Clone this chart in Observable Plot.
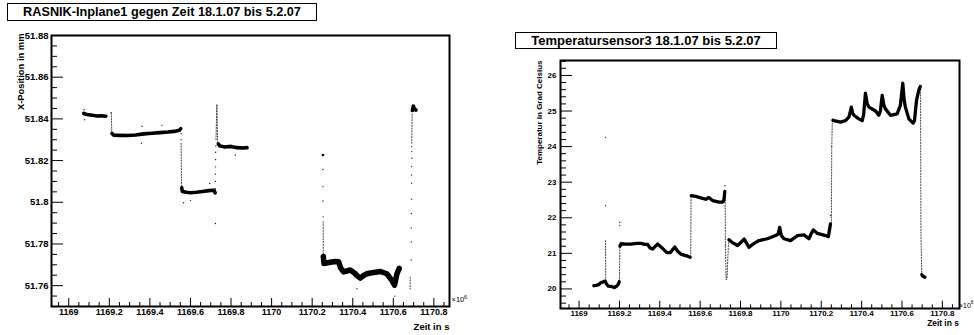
<!DOCTYPE html>
<html><head><meta charset="utf-8">
<script src="https://cdn.jsdelivr.net/npm/d3@7"></script>
<script src="https://cdn.jsdelivr.net/npm/@observablehq/plot@0.6"></script>
<style>
html,body{margin:0;padding:0;background:#fff;}
#page{position:relative;width:974px;height:335px;overflow:hidden;font-family:"Liberation Sans",Arial,Helvetica,sans-serif;background:#fff;}
.title{position:absolute;box-sizing:border-box;border:1px solid #000;background:#fff;font-weight:bold;text-align:center;white-space:nowrap;color:#000;}
.panel{position:absolute;top:0;}
</style></head><body><div id="page">
<div class="panel" id="left" style="left:0"></div>
<div class="panel" id="right" style="left:487px"></div>
<div class="title" style="left:7px;top:3px;width:310px;height:18px;font-size:12.7px;line-height:16px;">RASNIK-Inplane1 gegen Zeit 18.1.07 bis 5.2.07</div>
<div class="title" style="left:515px;top:32px;width:262px;height:17px;font-size:13px;line-height:15px;">Temperatursensor3 18.1.07 bis 5.2.07</div>
</div>
<script>
// ---------- axis ticks ----------
const xTicksMajor = [1169, 1169.2, 1169.4, 1169.6, 1169.8, 1170, 1170.2, 1170.4, 1170.6, 1170.8];
const xTickLabels = ["1169","1169.2","1169.4","1169.6","1169.8","1170","1170.2","1170.4","1170.6","1170.8"];
const rasnikYTicks = [51.76, 51.78, 51.8, 51.82, 51.84, 51.86, 51.88];
const rasnikYLabels = ["51.76","51.78","51.8","51.82","51.84","51.86","51.88"];
const tempYTicks = [20, 21, 22, 23, 24, 25, 26];
const tempYLabels = ["20","21","22","23","24","25","26"];

// ---------- RASNIK X-position (mm) : dense bands ----------
const rasnikSeg = ["A","A","A","A","A","A","A",
  "B","B","B","B","B","B","B","B","B","B","B","B",
  "C","C","C","C","C","C","C","C","C",
  "D","D","D","D","D","D","D",
  "E","E","E","E","E","E","E","E","E","E","E","E","E","E","E","E","E","E","E","E",
  "F","F","F","F"];
const rasnikT = [1169.074,1169.090,1169.107,1169.125,1169.141,1169.160,1169.183,
  1169.213,1169.222,1169.250,1169.290,1169.330,1169.370,1169.410,1169.450,1169.490,1169.520,1169.545,1169.552,
  1169.557,1169.560,1169.580,1169.600,1169.630,1169.660,1169.690,1169.715,1169.722,
  1169.737,1169.745,1169.770,1169.800,1169.830,1169.860,1169.879,
  1170.255,1170.258,1170.289,1170.315,1170.330,1170.340,1170.355,1170.388,1170.410,1170.421,1170.437,1170.455,1170.470,1170.495,1170.536,1170.568,1170.593,1170.606,1170.618,1170.629,
  1170.694,1170.699,1170.704,1170.712];
const rasnikX = [51.8426,51.8421,51.8419,51.8416,51.8414,51.8415,51.8413,
  51.8330,51.8322,51.8321,51.8320,51.8323,51.8328,51.8331,51.8334,51.8337,51.8340,51.8345,51.8353,
  51.8070,51.8052,51.8048,51.8046,51.8048,51.8052,51.8056,51.8058,51.8045,
  51.8280,51.8270,51.8265,51.8268,51.8262,51.8260,51.8262,
  51.7740,51.7706,51.7712,51.7716,51.7715,51.7685,51.7666,51.7675,51.7660,51.7648,51.7636,51.7650,51.7657,51.7662,51.7668,51.7657,51.7625,51.7602,51.7657,51.7683,
  51.8440,51.8462,51.8447,51.8442];
// transitions (dotted runs)
const rasnikStepId = [1,1, 2,2, 3,3,3, 4,4, 5,5, 6,6];
const rasnikStepT = [1169.210,1169.212, 1169.554,1169.556, 1169.726,1169.730,1169.734, 1170.254,1170.255, 1170.683,1170.683, 1170.691,1170.693];
const rasnikStepX = [51.8428,51.8335, 51.8283,51.8075, 51.8300,51.8470,51.8290, 51.7906,51.7740, 51.7641,51.7583, 51.8283,51.8430];
// isolated readings
const rasnikDotT = [1169.209,1169.554,1169.554,
  1169.723,1169.723,1169.723,1169.724,1169.724,1169.724,1169.725,
  1169.566,1169.723,
  1170.253,1170.253,1170.253,1170.254,
  1170.688,1170.689,1170.689,1170.689,1170.690,1170.690,1170.690,1170.690,1170.691,1170.691,1170.691,
  1169.358,1169.362,1169.460,1169.600,1169.695,1169.821,1169.076,1169.078,1170.421,1170.607];
const rasnikDotX = [51.8430,51.8330,51.8300,
  51.8065,51.8100,51.8135,51.8170,51.8205,51.8240,51.8270,
  51.7998,51.7898,
  51.8157,51.8075,51.8006,51.7930,
  51.7723,51.7810,51.7877,51.7946,51.8015,51.8091,51.8131,51.8171,51.8211,51.8243,51.8267,
  51.8283,51.8364,51.8369,51.8008,51.8090,51.8227,51.8444,51.8396,51.7585,51.7550];
const rasnikBigT = [1170.253];
const rasnikBigX = [51.8227];

// ---------- Temperature sensor 3 (°C) ----------
const tempSeg = ["R1","R1","R1","R1","R1","R1","R1","R1","R1","R1","R1","R1","R1",
  "R2","R2","R2","R2","R2","R2","R2","R2","R2","R2","R2","R2","R2","R2","R2","R2","R2","R2","R2","R2",
  "R3","R3","R3","R3","R3","R3","R3","R3","R3","R3",
  "R4","R4","R4","R4","R4","R4","R4","R4","R4","R4","R4","R4","R4","R4","R4","R4","R4","R4","R4","R4","R4","R4","R4","R4",
  "R5","R5","R5","R5","R5","R5","R5","R5","R5","R5","R5","R5","R5","R5","R5","R5","R5","R5","R5","R5","R5","R5","R5","R5","R5","R5","R5","R5","R5","R5","R5","R5","R5","R5",
  "R6","R6","R6","R6"];
const tempT = [1169.073,1169.085,1169.097,1169.109,1169.120,1169.129,1169.136,1169.145,1169.158,1169.175,1169.186,1169.194,1169.199,
  1169.203,1169.208,1169.230,1169.257,1169.285,1169.307,1169.325,1169.340,1169.352,1169.364,1169.389,1169.410,1169.435,1169.452,1169.474,1169.490,1169.504,1169.520,1169.538,1169.550,
  1169.556,1169.579,1169.603,1169.628,1169.643,1169.663,1169.694,1169.711,1169.718,1169.722,
  1169.743,1169.760,1169.785,1169.800,1169.818,1169.842,1169.867,1169.892,1169.933,1169.974,1169.987,1169.994,1170.002,1170.015,1170.048,1170.082,1170.114,1170.139,1170.150,1170.161,1170.181,1170.222,1170.235,1170.246,
  1170.258,1170.263,1170.280,1170.296,1170.320,1170.337,1170.343,1170.349,1170.355,1170.362,1170.386,1170.403,1170.410,1170.419,1170.428,1170.436,1170.469,1170.485,1170.493,1170.502,1170.510,1170.518,1170.543,1170.576,1170.592,1170.604,1170.611,1170.617,1170.634,1170.655,1170.662,1170.672,1170.683,1170.691,
  1170.698,1170.701,1170.707,1170.714];
const tempV = [20.09,20.10,20.12,20.18,20.20,20.22,20.14,20.08,20.07,20.04,20.08,20.13,20.20,
  21.20,21.27,21.26,21.26,21.28,21.28,21.25,21.25,21.15,21.12,21.26,21.16,21.02,21.02,21.18,21.05,20.98,20.95,20.92,20.89,
  22.62,22.60,22.56,22.52,22.57,22.48,22.44,22.44,22.50,22.74,
  21.38,21.30,21.22,21.30,21.40,21.17,21.28,21.36,21.41,21.50,21.55,21.73,21.50,21.41,21.36,21.50,21.52,21.41,21.55,21.66,21.56,21.50,21.47,21.83,
  24.74,24.73,24.71,24.69,24.73,24.83,24.95,25.11,24.95,24.88,24.78,24.73,24.90,25.50,25.20,25.11,25.00,24.88,25.00,25.44,25.17,25.06,24.88,24.92,25.16,25.78,25.30,25.11,24.78,24.66,24.73,25.30,25.58,25.69,
  20.40,20.37,20.35,20.33];
const tempStepId = [1,1, 2,2, 3,3, 4,4, 5,5,5,5, 6,6, 7,7, 8,8,8];
const tempStepT = [1169.131,1169.132, 1169.200,1169.202, 1169.553,1169.555, 1169.724,1169.725, 1169.725,1169.729,1169.733,1169.741, 1170.250,1170.252, 1170.252,1170.255, 1170.692,1170.694,1170.698];
const tempStepV = [21.36,20.23, 20.20,21.22, 20.90,22.60, 22.75,21.20, 21.20,20.25,20.30,21.38, 21.83,24.00, 24.00,24.74, 25.69,21.50,20.40];
const tempDotT = [1169.131,1169.131,1169.201,1169.201,1169.723,1170.246];
const tempDotV = [24.26,22.34,21.87,21.78,22.90,22.06];

// ---------- build tables ----------
const rows = (T, V, K) => T.map((t, i) => ({t, v: V[i], k: K ? K[i] : 0}));
const rasnikLine = rows(rasnikT, rasnikX, rasnikSeg);
const rasnikSteps = rows(rasnikStepT, rasnikStepX, rasnikStepId);
const rasnikDots = rows(rasnikDotT, rasnikDotX);
const rasnikBig = rows(rasnikBigT, rasnikBigX);
const tempLine = rows(tempT, tempV, tempSeg);
const tempSteps = rows(tempStepT, tempStepV, tempStepId);
const tempDots = rows(tempDotT, tempDotV);

const rng = (a, b, s) => d3.range(Math.round((b - a) / s) + 1).map(i => +(a + i * s).toFixed(4));
const xMinor = rng(1168.95, 1170.85, 0.05).filter(d => !xTicksMajor.some(m => Math.abs(m - d) < 1e-6));
const rasnikYMinor = rng(51.755, 51.875, 0.005).filter(d => !rasnikYTicks.some(m => Math.abs(m - d) < 1e-6));
const tempYMinor = rng(19.6, 26.4, 0.2).filter(d => !tempYTicks.some(m => Math.abs(m - d) < 1e-6));

const font = '"Liberation Sans", Arial, Helvetica, sans-serif';
const lbl = (ticks, labels) => d => labels[ticks.findIndex(m => Math.abs(m - d) < 1e-6)];
const tk = {stroke: "#000", strokeOpacity: 1, strokeWidth: 1};

// ---------- left panel ----------
{
  const W = 487, H = 335, mL = 51, mR = 38, mT = 35, mB = 29;
  const iW = W - mL - mR, iH = H - mT - mB;
  const chart = Plot.plot({
    width: W, height: H, marginLeft: mL, marginRight: mR, marginTop: mT, marginBottom: mB,
    style: {fontFamily: font, background: "transparent", color: "#000"},
    x: {domain: [1168.915, 1170.877]},
    y: {domain: [51.75, 51.88]},
    marks: [
      Plot.gridX(xMinor, {...tk, insetTop: iH - 4}),
      Plot.gridX(xTicksMajor, {...tk, insetTop: iH - 8}),
      Plot.gridY(rasnikYMinor, {...tk, insetRight: iW - 6}),
      Plot.gridY(rasnikYTicks, {...tk, insetRight: iW - 12}),
      Plot.axisX(xTicksMajor, {tickSize: 0, tickPadding: 2, tickFormat: lbl(xTicksMajor, xTickLabels), fontSize: 9, fontWeight: "bold", label: null}),
      Plot.axisY(rasnikYTicks, {tickSize: 0, tickPadding: 3, tickFormat: lbl(rasnikYTicks, rasnikYLabels), fontSize: 9.5, fontWeight: "bold", label: null}),
      Plot.line(rasnikSteps, {x: "t", y: "v", z: "k", stroke: "#333", strokeWidth: 0.9, strokeDasharray: "1.2,1.6"}),
      Plot.dot(rasnikDots, {x: "t", y: "v", r: 0.7, fill: "#222"}),
      Plot.dot(rasnikBig, {x: "t", y: "v", r: 1.3, fill: "#000"}),
      Plot.line(rasnikLine.filter(d => d.k !== "E"), {x: "t", y: "v", z: "k", stroke: "#000", strokeWidth: 3.6}),
      Plot.line(rasnikLine.filter(d => d.k === "E"), {x: "t", y: "v", z: "k", stroke: "#000", strokeWidth: 5.5}),
      Plot.frame({stroke: "#000", strokeWidth: 2}),
      Plot.text(["X-Position in mm"], {frameAnchor: "top-left", dx: -34.5, dy: -2, rotate: -90, textAnchor: "end", fontSize: 9.4, fontWeight: "bold"}),
      Plot.text(["Zeit in s"], {frameAnchor: "bottom-right", dx: 0, dy: 23, textAnchor: "end", fontSize: 9.5, fontWeight: "bold"}),
      Plot.text(["×10"], {frameAnchor: "bottom-right", dx: 2, dy: -4.5, textAnchor: "start", fontSize: 7.5}),
      Plot.text(["6"], {frameAnchor: "bottom-right", dx: 14.5, dy: -8, textAnchor: "start", fontSize: 5.5})
    ]
  });
  document.getElementById("left").appendChild(chart);
}

// ---------- right panel ----------
{
  const W = 487, H = 335, mL = 73, mR = 15, mT = 60, mB = 27;
  const iW = W - mL - mR, iH = H - mT - mB;
  const chart = Plot.plot({
    width: W, height: H, marginLeft: mL, marginRight: mR, marginTop: mT, marginBottom: mB,
    style: {fontFamily: font, background: "transparent", color: "#000"},
    x: {domain: [1168.908, 1170.885]},
    y: {domain: [19.45, 26.42]},
    marks: [
      Plot.gridX(xMinor, {...tk, insetTop: iH - 3.7}),
      Plot.gridX(xTicksMajor, {...tk, insetTop: iH - 7.3}),
      Plot.gridY(tempYMinor, {...tk, insetRight: iW - 6}),
      Plot.gridY(tempYTicks, {...tk, insetRight: iW - 12}),
      Plot.axisX(xTicksMajor, {tickSize: 0, tickPadding: 2, tickFormat: lbl(xTicksMajor, xTickLabels), fontSize: 8, fontWeight: "bold", label: null}),
      Plot.axisY(tempYTicks, {tickSize: 0, tickPadding: 4, tickFormat: lbl(tempYTicks, tempYLabels), fontSize: 8, fontWeight: "bold", label: null}),
      Plot.line(tempSteps, {x: "t", y: "v", z: "k", stroke: "#333", strokeWidth: 0.9, strokeDasharray: "1.2,1.6"}),
      Plot.dot(tempDots, {x: "t", y: "v", r: 0.7, fill: "#222"}),
      Plot.line(tempLine, {x: "t", y: "v", z: "k", stroke: "#000", strokeWidth: 3.3}),
      Plot.frame({stroke: "#000", strokeWidth: 2}),
      Plot.text(["Temperatur in Grad Celsius"], {frameAnchor: "top-left", dx: -24.5, dy: 0, rotate: -90, textAnchor: "end", fontSize: 8, fontWeight: "bold"}),
      Plot.text(["Zeit in s"], {frameAnchor: "bottom-right", dx: -0.7, dy: 17, textAnchor: "end", fontSize: 8.4, fontWeight: "bold"}),
      Plot.text(["×10"], {frameAnchor: "bottom-right", dx: -0.5, dy: -1, textAnchor: "start", fontSize: 7}),
      Plot.text(["6"], {frameAnchor: "bottom-right", dx: 11.3, dy: -4.3, textAnchor: "start", fontSize: 5})
    ]
  });
  document.getElementById("right").appendChild(chart);
}
</script>
</body></html>
